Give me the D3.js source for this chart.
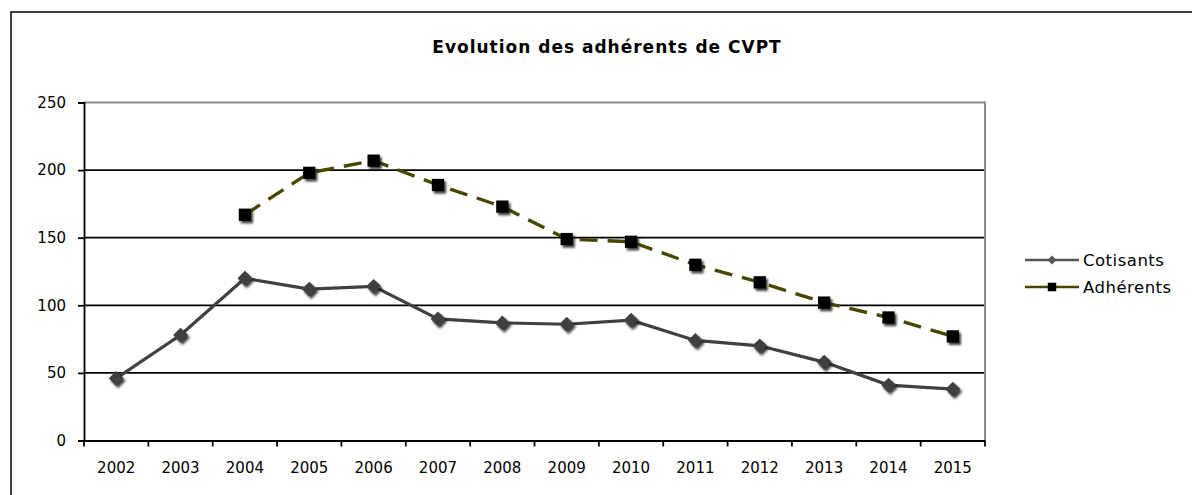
<!DOCTYPE html>
<html><head><meta charset="utf-8">
<script src="https://cdn.jsdelivr.net/npm/d3@7"></script>
<style>body{margin:0;background:#fff}svg{display:block}text{font-family:"DejaVu Sans",Verdana,sans-serif}</style>
</head><body>
<svg id="c" width="1192" height="495"></svg>
<script>
const years = ["2002","2003","2004","2005","2006","2007","2008","2009","2010","2011","2012","2013","2014","2015"];
const cotisants = [46,78,120,112,114,90,87,86,89,74,70,58,41,38];
const adherents = [null,null,167,198,207,189,173,149,147,130,117,102,91,77];
const yTicks = [0,50,100,150,200,250];
const titleText = "Evolution des adhérents de CVPT";
const seriesNames = ["Cotisants","Adhérents"];

const svg = d3.select("#c");
const L=84, R=985, T=102.5, B=440.5;
const x = d3.scaleBand().domain(years).range([L,R]);
const y = d3.scaleLinear().domain([0,250]).range([B,T]);
const FF = "DejaVu Sans, Verdana, sans-serif";

const defs = svg.append("defs");
defs.append("filter").attr("id","sh").attr("x","-50%").attr("y","-50%").attr("width","200%").attr("height","200%")
  .append("feGaussianBlur").attr("stdDeviation",0.9);

svg.append("rect").attr("x",11).attr("y",12).attr("width",1200).attr("height",500)
  .attr("fill","none").attr("stroke","#000").attr("stroke-width",1.5);

svg.append("text").attr("x",607).attr("y",53).attr("text-anchor","middle")
  .attr("font-size",17).attr("font-weight","bold").attr("letter-spacing",1).text(titleText);

// gridlines
svg.append("g").selectAll("line").data(yTicks.filter(d=>d>0&&d<250)).join("line")
  .attr("x1",L).attr("x2",R).attr("y1",d=>y(d)).attr("y2",d=>y(d))
  .attr("stroke","#000").attr("stroke-width",1.8);
// plot border top/right
svg.append("path").attr("d",`M${L},${y(250)}H${R}V${B}`).attr("fill","none").attr("stroke","#8c8c8c").attr("stroke-width",2);

// y axis
const ya = svg.append("g").attr("transform",`translate(${L},0)`)
  .call(d3.axisLeft(y).tickValues(yTicks).tickSize(6).tickPadding(12));
ya.select(".domain").attr("stroke","#000").attr("stroke-width",1.8);
ya.selectAll(".tick line").attr("stroke","#000").attr("stroke-width",1.8);
ya.selectAll("text").attr("font-size",15).attr("fill","#000").style("font-family",FF);

// x axis with ticks at boundaries
const xa = svg.append("g").attr("transform",`translate(0,${B})`)
  .call(d3.axisBottom(x).tickSize(0).tickPadding(22));
xa.select(".domain").attr("stroke","#000").attr("stroke-width",1.8);
xa.selectAll("text").attr("font-size",15).attr("fill","#000").style("font-family",FF);
xa.selectAll(".bt").data(years.concat(["end"])).join("line")
  .attr("x1",(d,i)=>L+i*x.step()).attr("x2",(d,i)=>L+i*x.step()).attr("y1",0).attr("y2",6)
  .attr("stroke","#000").attr("stroke-width",1.8);

const cx = d=>x(d)+x.bandwidth()/2;

const cData = years.map((yr,i)=>({yr,v:cotisants[i]}));
const aData = years.map((yr,i)=>({yr,v:adherents[i]})).filter(d=>d.v!=null);
const line = d3.line().x(d=>cx(d.yr)).y(d=>y(d.v));

svg.append("path").datum(cData).attr("d",line).attr("fill","none").attr("stroke","#404040").attr("stroke-width",3.2);
svg.append("path").datum(aData).attr("d",line).attr("fill","none").attr("stroke","#4a4600").attr("stroke-width",3.4)
  .attr("stroke-dasharray","18,10");

const sq = d3.symbol().type(d3.symbolSquare).size(150);
const dm = d3.symbol().type(d3.symbolSquare).size(110);
function markers(data, sym, rot, fill){
  const g = svg.append("g");
  g.selectAll(".s").data(data).join("path").attr("d",sym)
    .attr("transform",d=>`translate(${cx(d.yr)+2},${y(d.v)+2.5}) rotate(${rot})`)
    .attr("fill","#1a1a1a").attr("opacity",0.85).attr("filter","url(#sh)");
  g.selectAll(".m").data(data).join("path").attr("d",sym)
    .attr("transform",d=>`translate(${cx(d.yr)},${y(d.v)}) rotate(${rot})`).attr("fill",fill);
}
markers(cData, dm, 45, "#404040");
markers(aData, sq, 0, "#000");

// legend
const lg = svg.append("g");
const ly = [260, 287];
lg.append("line").attr("x1",1025).attr("x2",1079).attr("y1",ly[0]).attr("y2",ly[0]).attr("stroke","#555").attr("stroke-width",2.5);
lg.append("path").attr("d",d3.symbol().type(d3.symbolSquare).size(40)).attr("transform",`translate(1052,${ly[0]}) rotate(45)`).attr("fill","#555");
lg.append("line").attr("x1",1025).attr("x2",1079).attr("y1",ly[1]).attr("y2",ly[1]).attr("stroke","#4a4600").attr("stroke-width",2.5);
lg.append("path").attr("d",d3.symbol().type(d3.symbolSquare).size(72)).attr("transform",`translate(1052,${ly[1]})`).attr("fill","#000");
lg.selectAll("text").data(seriesNames).join("text").attr("x",1083).attr("y",(d,i)=>ly[i]+6)
  .attr("font-size",16.5).attr("letter-spacing",0.5).text(d=>d);
</script>
</body></html>
